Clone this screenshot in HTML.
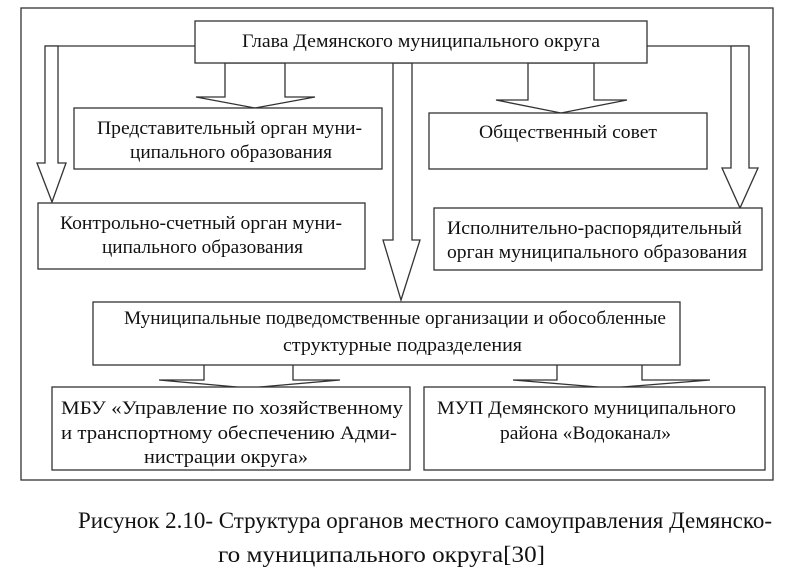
<!DOCTYPE html>
<html><head><meta charset="utf-8"><style>
html,body{margin:0;padding:0;background:#fff;}
svg{display:block;}
text{font-family:"Liberation Serif",serif;fill:#111;}
</style></head><body>
<svg width="800" height="581" viewBox="0 0 800 581" xmlns="http://www.w3.org/2000/svg">
<g fill="#fff" stroke="#333" stroke-width="1.3">
<rect x="21" y="8" width="752" height="472"/>
<polyline points="195,46 45,46" fill="none"/>
<polygon points="45,46 58,46 58,163 66,163 52,202 37,163 45,163"/>
<polyline points="647,46 749,46" fill="none"/>
<polygon points="731,46 749,46 749,168 758,168 740,208 722,168 731,168"/>
<polygon points="393,63 412,63 412,240 420,240 401,300 383,240 393,240"/>
<polygon points="225,63 285,63 285,97 315,97 255,108 196,97 225,97"/>
<polygon points="528,63 594,63 594,100 627,100 561,113 496,100 528,100"/>
<rect x="195" y="21" width="452" height="42"/>
<rect x="74" y="108" width="308" height="61"/>
<rect x="38" y="203" width="327" height="66"/>
<rect x="429" y="113" width="278" height="56"/>
<rect x="434" y="208" width="328" height="62"/>
<polygon points="204,360 293,360 293,380 340,380 248,388 159,380 204,380"/>
<polygon points="557,360 642,360 642,380 710,380 610,388 513,380 557,380"/>
<rect x="93" y="302" width="587" height="63"/>
<rect x="52" y="387" width="358" height="83"/>
<rect x="424" y="387" width="341" height="83"/>
</g>
<g font-size="18.5" stroke="none">
<text x="242" y="47" textLength="358" lengthAdjust="spacingAndGlyphs">Глава Демянского муниципального округа</text>
<text x="97" y="134" textLength="265" lengthAdjust="spacingAndGlyphs">Представительный орган муни-</text>
<text x="130" y="158" textLength="202" lengthAdjust="spacingAndGlyphs">ципального образования</text>
<text x="60" y="229" textLength="282" lengthAdjust="spacingAndGlyphs">Контрольно-счетный орган муни-</text>
<text x="102" y="253" textLength="201" lengthAdjust="spacingAndGlyphs">ципального образования</text>
<text x="479" y="138" textLength="178" lengthAdjust="spacingAndGlyphs">Общественный совет</text>
<text x="447" y="234" textLength="295" lengthAdjust="spacingAndGlyphs">Исполнительно-распорядительный</text>
<text x="447" y="258" textLength="300" lengthAdjust="spacingAndGlyphs">орган муниципального образования</text>
</g>
<g font-size="19" stroke="none">
<text x="124" y="324" textLength="542" lengthAdjust="spacingAndGlyphs">Муниципальные подведомственные организации и обособленные</text>
<text x="283" y="351" textLength="239" lengthAdjust="spacingAndGlyphs">структурные подразделения</text>
<text x="61" y="414" textLength="342" lengthAdjust="spacingAndGlyphs">МБУ «Управление по хозяйственному</text>
<text x="61" y="439" textLength="336" lengthAdjust="spacingAndGlyphs">и транспортному обеспечению Адми-</text>
<text x="144" y="463" textLength="164" lengthAdjust="spacingAndGlyphs">нистрации округа»</text>
<text x="437" y="414" textLength="299" lengthAdjust="spacingAndGlyphs">МУП Демянского муниципального</text>
<text x="500" y="439" textLength="171" lengthAdjust="spacingAndGlyphs">района «Водоканал»</text>
</g>
<g font-size="23" stroke="none">
<text x="78" y="528" textLength="694" lengthAdjust="spacingAndGlyphs">Рисунок 2.10- Структура органов местного самоуправления Демянско-</text>
<text x="218" y="562" textLength="327" lengthAdjust="spacingAndGlyphs">го муниципального округа[30]</text>
</g>
</svg>
</body></html>
